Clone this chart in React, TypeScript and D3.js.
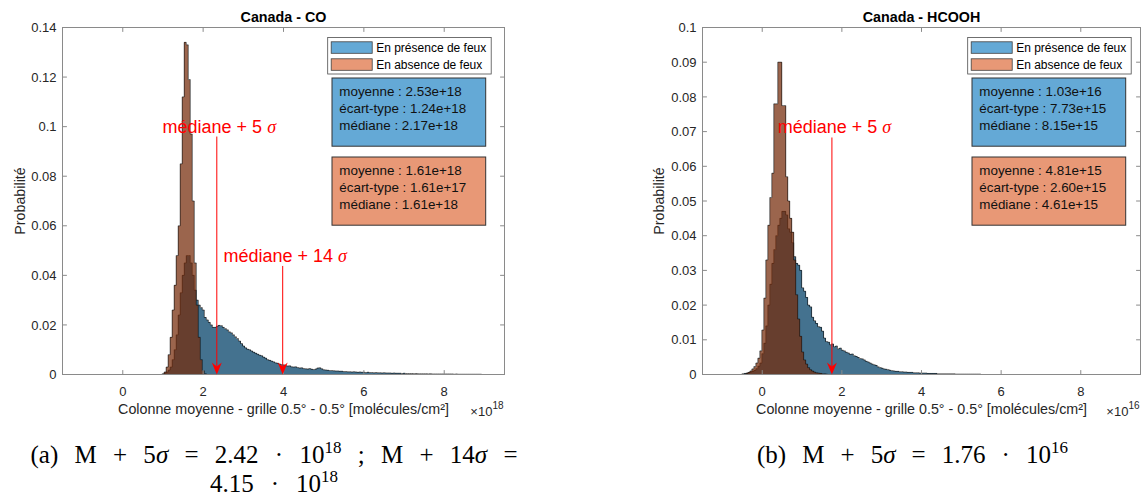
import React, { useLayoutEffect, useRef, useState } from 'react';
import * as d3 from 'd3';

// ---------- data (probability per bin, bin width 0.05 in axis units) ----------
const BIN_W = 0.05;

// Canada - CO (x in 1e18 molecules/cm2)
const coFireStart = 0.98;
const coFire = [
  0.0003, 0.0006, 0.001, 0.0018, 0.003, 0.006, 0.010, 0.016, 0.024, 0.033, 0.040, 0.045, 0.048, 0.048, 0.045, 0.040, 0.034, 0.030, 0.028, 0.027, 0.026, 0.023,
  0.022, 0.021, 0.020, 0.019, 0.019, 0.0195, 0.0198, 0.0197, 0.019, 0.0185, 0.018, 0.0172, 0.0168, 0.016, 0.0152, 0.0145, 0.0135, 0.0125, 0.0115, 0.0108,
  0.0102, 0.0100, 0.0095, 0.0090, 0.0086, 0.0082, 0.0078, 0.0076, 0.0070, 0.0066, 0.0060, 0.0057, 0.0054, 0.0051,
  0.0047, 0.0045, 0.0042, 0.0040, 0.0039, 0.0036, 0.0034, 0.0035, 0.0031, 0.0030, 0.0031, 0.0028, 0.0026, 0.0027, 0.0024, 0.0023, 0.0022, 0.0024,
  0.0021, 0.0020, 0.0022, 0.0026, 0.0027, 0.0023, 0.0019, 0.0018, 0.0017, 0.0016, 0.0016, 0.0015, 0.0014, 0.0014, 0.0013, 0.0013, 0.0012, 0.0012,
  0.0011, 0.0011, 0.0010, 0.0011, 0.0010, 0.0009, 0.0010, 0.0009, 0.0009, 0.0008, 0.0009, 0.0008, 0.0008, 0.0007, 0.0008, 0.0007, 0.0007, 0.0006,
  0.0007, 0.0006, 0.0006, 0.0006, 0.0005, 0.0006, 0.0005, 0.0005, 0.0005, 0.0004, 0.0005, 0.0004, 0.0004, 0.0004, 0.0004, 0.0003, 0.0004, 0.0003,
  0.0003, 0.0003, 0.0003, 0.0003, 0.0002, 0.0003, 0.0002, 0.0002, 0.0002, 0.0002, 0.0002, 0.0002, 0.0002, 0.0002, 0.0002, 0.0002, 0.0002, 0.0001,
  0.0002, 0.0001, 0.0001, 0.0001, 0.0001, 0.0001, 0.0001, 0.0001, 0.0001, 0.0001, 0.0001, 0.0001, 0.0001,
];
const coNoFireStart = 1.03;
const coNoFire = [
  0.001, 0.003, 0.008, 0.015, 0.026, 0.036, 0.048, 0.060, 0.085, 0.112, 0.134, 0.133, 0.119, 0.097, 0.070, 0.045, 0.028, 0.015, 0.006, 0.0015, 0.0003,
];

// Canada - HCOOH (x in 1e16 molecules/cm2)
const hcFireStart = -0.51;
const hcFire = [
  0.0002, 0.0003, 0.0004, 0.0005, 0.0007, 0.0009, 0.0012, 0.0017, 0.0024, 0.0033,
  0.006, 0.009, 0.014, 0.020, 0.026, 0.032, 0.036, 0.040, 0.043, 0.045, 0.047, 0.047, 0.046, 0.042, 0.041, 0.038, 0.034, 0.032, 0.0315, 0.030,
  0.025, 0.024, 0.0222, 0.020, 0.0195, 0.0165, 0.0155, 0.0147, 0.0138, 0.0136, 0.0125, 0.0105, 0.0095, 0.0093, 0.0086, 0.0088, 0.0080, 0.0082, 0.0074, 0.0076,
  0.0070, 0.0068, 0.0064, 0.0062, 0.0058, 0.0059, 0.0054, 0.0052, 0.0049, 0.0046, 0.0045, 0.0042, 0.0038, 0.0036, 0.0033, 0.0030, 0.0028, 0.0026, 0.0022, 0.0020,
  0.0018, 0.0016, 0.0015, 0.0014, 0.0012, 0.0011, 0.0010, 0.0009, 0.0009, 0.0008, 0.0008, 0.0007, 0.0007, 0.0006, 0.0006, 0.0006, 0.0005, 0.0005, 0.0005, 0.0004,
  0.0004, 0.0004, 0.0004, 0.0003, 0.0003, 0.0003, 0.0003, 0.0003, 0.0002, 0.0002, 0.0002, 0.0002, 0.0002, 0.0002, 0.0002, 0.0002, 0.0002, 0.0001, 0.0001, 0.0001,
  0.0001, 0.0001, 0.0001, 0.0001, 0.0001, 0.0001, 0.0001, 0.0001, 0.0001, 0.0001,
];
const hcNoFireStart = -0.41;
const hcNoFire = [
  0.0003, 0.0006, 0.001, 0.0016, 0.0023, 0.0033, 0.0047, 0.0068, 0.0128, 0.022, 0.033, 0.043, 0.051, 0.058,
  0.078, 0.078, 0.090, 0.090, 0.0775, 0.0775, 0.057, 0.050, 0.045, 0.041, 0.033, 0.023, 0.016, 0.011, 0.0065, 0.0042,
  0.003, 0.002, 0.0014, 0.001, 0.0007, 0.0005, 0.0004, 0.0003, 0.0002, 0.0002, 0.0001,
];

const xTicks = [0, 2, 4, 6, 8];
const coYTicks = [0, 0.02, 0.04, 0.06, 0.08, 0.1, 0.12, 0.14];
const hcYTicks = [0, 0.01, 0.02, 0.03, 0.04, 0.05, 0.06, 0.07, 0.08, 0.09, 0.1];

const legendLabels = ['En présence de feux', 'En absence de feux'];
const coStatsFire = ['moyenne : 2.53e+18', 'écart-type : 1.24e+18', 'médiane : 2.17e+18'];
const coStatsNoFire = ['moyenne : 1.61e+18', 'écart-type : 1.61e+17', 'médiane : 1.61e+18'];
const hcStatsFire = ['moyenne : 1.03e+16', 'écart-type : 7.73e+15', 'médiane : 8.15e+15'];
const hcStatsNoFire = ['moyenne : 4.81e+15', 'écart-type : 2.60e+15', 'médiane : 4.61e+15'];

// arrows: x position (axis units), tail height (probability), label
const coArrows = [
  { x: 2.34, tail: 0.096, label: 'médiane + 5 ' },
  { x: 3.98, tail: 0.0438, label: 'médiane + 14 ' },
];
const hcArrows = [{ x: 1.75, tail: 0.0683, label: 'médiane + 5 ' }];

// ---------- styling ----------
const FONT = "'Liberation Sans', Arial, Helvetica, sans-serif";
const SERIF = "'Liberation Serif', 'Times New Roman', serif";
const AX = '#262626';
const BOX = '#8a8a8a';
const BLUE_BAR = 'rgb(68,114,143)';
const ORANGE_BAR = 'rgb(116,42,9)';
const ORANGE_BAR_OPACITY = 0.72;
const BLUE_SOLID = '#64a9d6';
const ORANGE_SOLID = '#e89876';
const TOP = 27.5;
const BOTTOM = 374.5;
const X_DOMAIN: [number, number] = [-1.5, 9.5];
const TICK = 4.4;

function Bars({ data, start, color, opacity, x, y }: any) {
  let d = `M${x(start)},${BOTTOM}`;
  data.forEach((v: number, i: number) => {
    d += `V${y(v)}H${x(start + (i + 1) * BIN_W)}`;
  });
  d += `V${BOTTOM}`;
  return (
    <g>
      <g shapeRendering="crispEdges">
        {data.map((v: number, i: number) => {
          const x0 = x(start + i * BIN_W);
          const x1 = x(start + (i + 1) * BIN_W);
          const yv = y(v);
          return (
            <rect key={i} x={x0} y={yv} width={x1 - x0} height={Math.max(0, BOTTOM - yv)}
              fill={color} fillOpacity={opacity} />
          );
        })}
      </g>
      <path d={d} fill="none" stroke="#111" strokeWidth={0.8} strokeOpacity={0.8} />
    </g>
  );
}

function FitText({ x, y, width, children, ...rest }: any) {
  const ref = useRef<SVGTextElement>(null);
  const [ws, setWs] = useState(0);
  useLayoutEffect(() => {
    const el = ref.current;
    if (!el) return;
    el.setAttribute('word-spacing', '0');
    const natural = el.getComputedTextLength();
    const spaces = ((el.textContent || '').match(/ /g) || []).length;
    if (spaces) setWs((width - natural) / spaces);
  }, [width]);
  return <text ref={ref} x={x} y={y} wordSpacing={ws} {...rest}>{children}</text>;
}

function Panel(p: any) {
  const x = d3.scaleLinear().domain(X_DOMAIN).range([p.left, p.right]);
  const y = d3.scaleLinear().domain([0, p.yMax]).range([BOTTOM, TOP]);
  const cx = (p.left + p.right) / 2;
  const fmt = (t: number) => String(Number(t.toFixed(3)));
  return (
    <g fontFamily={FONT}>
      <text x={cx} y={22} textAnchor="middle" fontWeight="bold" fontSize={14.3} fill="#000">{p.title}</text>
      <Bars data={p.fire} start={p.fireStart} color={BLUE_BAR} opacity={1} x={x} y={y} />
      <Bars data={p.noFire} start={p.noFireStart} color={ORANGE_BAR} opacity={ORANGE_BAR_OPACITY} x={x} y={y} />
      {/* axes box */}
      <rect x={p.left} y={TOP} width={p.right - p.left} height={BOTTOM - TOP} fill="none" stroke={BOX} strokeWidth={1} />
      {xTicks.map((t) => (
        <g key={'xt' + t}>
          <line x1={x(t)} x2={x(t)} y1={BOTTOM} y2={BOTTOM - TICK} stroke={BOX} />
          <line x1={x(t)} x2={x(t)} y1={TOP} y2={TOP + TICK} stroke={BOX} />
          <text x={x(t)} y={396} textAnchor="middle" fontSize={13} fill={AX}>{t}</text>
        </g>
      ))}
      {p.yTicks.map((t: number) => (
        <g key={'yt' + t}>
          <line x1={p.left} x2={p.left + TICK} y1={y(t)} y2={y(t)} stroke={BOX} />
          <line x1={p.right} x2={p.right - TICK} y1={y(t)} y2={y(t)} stroke={BOX} />
          <text x={p.left - 6} y={y(t) + 4.6} textAnchor="end" fontSize={13} fill={AX}>{fmt(t)}</text>
        </g>
      ))}
      <text transform={`translate(${p.yLabelX},${(TOP + BOTTOM) / 2}) rotate(-90)`} textAnchor="middle" fontSize={14.3} fill={AX}>Probabilité</text>
      <text x={cx} y={414} textAnchor="middle" fontSize={14.3} fill={AX}>Colonne moyenne - grille 0.5° - 0.5° [molécules/cm²]</text>
      <text x={p.right - 1} y={415.5} textAnchor="end" fontSize={13} fill={AX}>
        ×10<tspan dy={-7} fontSize={10}>{p.exponent}</tspan>
      </text>
      {/* legend */}
      <g>
        <rect x={p.legendX} y={37.5} width={163.5} height={36.5} fill="#fff" stroke="#4d4d4d" strokeWidth={0.8} />
        {legendLabels.map((l, i) => (
          <g key={l}>
            <rect x={p.legendX + 3.5} y={41.8 + i * 17} width={41} height={11.5} fill={i === 0 ? BLUE_SOLID : ORANGE_SOLID} stroke="#404040" strokeWidth={0.8} />
            <text x={p.legendX + 48.5} y={52 + i * 17} fontSize={12} fill="#000">{l}</text>
          </g>
        ))}
      </g>
      {/* stats boxes */}
      {[p.statsFire, p.statsNoFire].map((lines: string[], k: number) => (
        <g key={'s' + k}>
          <rect x={p.statsX} y={78 + k * 79} width={153.7} height={68.2} fill={k === 0 ? BLUE_SOLID : ORANGE_SOLID} stroke="#333" strokeWidth={1} />
          {lines.map((l, i) => (
            <text key={l} x={p.statsX + 7.3} y={95.5 + k * 79 + i * 17.3} fontSize={13.4} fill="#111">{l}</text>
          ))}
        </g>
      ))}
      {/* arrows */}
      {p.arrows.map((a: any) => {
        const ax = x(a.x);
        const ty = y(a.tail);
        return (
          <g key={a.label + a.x}>
            <line x1={ax} x2={ax} y1={ty} y2={BOTTOM - 8} stroke="#ff0000" strokeWidth={1} />
            <path d={`M${ax},${BOTTOM} L${ax - 5},${BOTTOM - 12} L${ax},${BOTTOM - 8} L${ax + 5},${BOTTOM - 12} Z`} fill="#ff0000" />
            <text x={ax + 2.5} y={ty - 4} textAnchor="middle" fontSize={18} fill="#ff0000">
              {a.label}<tspan fontFamily={SERIF} fontStyle="italic">σ</tspan>
            </text>
          </g>
        );
      })}
    </g>
  );
}

export default function App() {
  return (
    <svg width={1145} height={501} viewBox="0 0 1145 501" style={{ position: 'absolute', left: 0, top: 0, background: '#fff' }}>
      <rect x={0} y={0} width={1145} height={501} fill="#fff" />
      <Panel left={62.5} right={504.5} title="Canada - CO" fire={coFire} fireStart={coFireStart}
        noFire={coNoFire} noFireStart={coNoFireStart} yMax={0.14} yTicks={coYTicks} exponent="18"
        statsFire={coStatsFire} statsNoFire={coStatsNoFire} arrows={coArrows} yLabelX={25}
        legendX={327.7} statsX={332} />
      <Panel left={702.5} right={1140.5} title="Canada - HCOOH" fire={hcFire} fireStart={hcFireStart}
        noFire={hcNoFire} noFireStart={hcNoFireStart} yMax={0.1} yTicks={hcYTicks} exponent="16"
        statsFire={hcStatsFire} statsNoFire={hcStatsNoFire} arrows={hcArrows} yLabelX={663.5}
        legendX={967.7} statsX={972} />
      <g fontFamily={SERIF} fontSize={25} fill="#000">
        <FitText x={30.5} y={463} width={487}>
          {'(a) M + 5'}<tspan fontStyle="italic">σ</tspan>{' = 2.42 · 10'}<tspan dy={-10} fontSize={17}>18</tspan><tspan dy={10}>{' ; M + 14'}</tspan><tspan fontStyle="italic">σ</tspan>{' ='}
        </FitText>
        <FitText x={210} y={492} width={128}>
          {'4.15 · 10'}<tspan dy={-10} fontSize={17}>18</tspan>
        </FitText>
        <FitText x={757} y={463} width={311}>
          {'(b) M + 5'}<tspan fontStyle="italic">σ</tspan>{' = 1.76 · 10'}<tspan dy={-10} fontSize={17}>16</tspan>
        </FitText>
      </g>
    </svg>
  );
}
